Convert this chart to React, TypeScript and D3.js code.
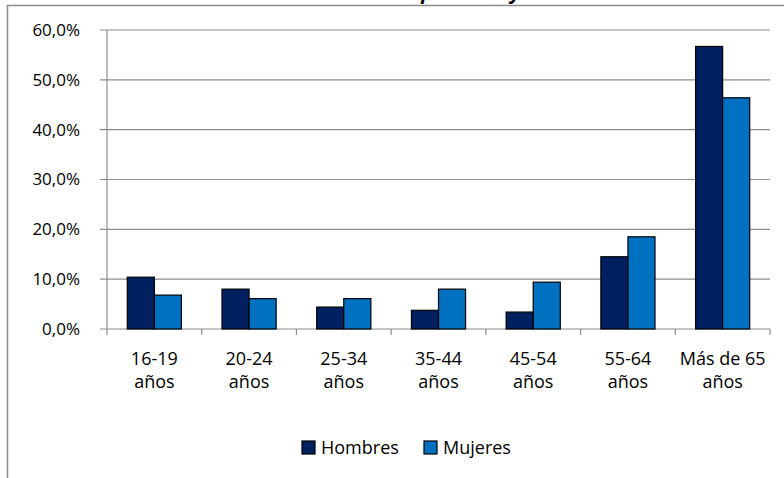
import React from "react";
import * as d3 from "d3";

const categories = ["16-19 años", "20-24 años", "25-34 años", "35-44 años", "45-54 años", "55-64 años", "Más de 65 años"];
const categoryLines = [["16-19", "años"], ["20-24", "años"], ["25-34", "años"], ["35-44", "años"], ["45-54", "años"], ["55-64", "años"], ["Más de 65", "años"]];
const seriesNames = ["Hombres", "Mujeres"];
const hombres = [10.4, 8.0, 4.4, 3.75, 3.4, 14.5, 56.7];
const mujeres = [6.8, 6.1, 6.1, 8.0, 9.4, 18.5, 46.4];
const yTicks = [0, 10, 20, 30, 40, 50, 60];
const colors = ["#002060", "#0070C0"];
const title = "Distribución por edad y sexo";

const W = 784;
const H = 478;
const font = "'Open Sans', 'Noto Sans', sans-serif";

export default function App() {
  const left = 107, right = 770, top = 30, bottom = 329;
  const x = d3.scaleBand<string>().domain(categories).range([left, right]).paddingInner(0).paddingOuter(0);
  const y = d3.scaleLinear().domain([0, 60]).range([bottom, top]);
  const bw = x.bandwidth();
  const barW = bw / 3.5;
  const series = [hombres, mujeres];
  const fmt = (v: number) => v.toFixed(1).replace(".", ",") + "%";

  return (
    <svg width={W} height={H} style={{ position: "absolute", left: 0, top: 0, display: "block" }} fontFamily={font}>
      <rect x={0} y={0} width={W} height={H} fill="#fff" />
      <text x={435} y={-1.5} textAnchor="middle" fontSize={20} fontWeight="bold" fontStyle="italic" fill="#000">{title}</text>
      {/* frame */}
      <path d={`M7.5,${H + 5} V5.5 H${W + 5}`} fill="none" stroke="#8c8c8c" strokeWidth={1.5} />
      {/* gridlines */}
      {yTicks.map((t) => (
        <g key={t}>
          <line x1={left - 7} x2={right} y1={y(t)} y2={y(t)} stroke="#8c8c8c" strokeWidth={1.2} />
          <text x={80} y={y(t)} dy="0.35em" textAnchor="end" fontSize={17} fill="#000">{fmt(t)}</text>
        </g>
      ))}
      {/* y axis */}
      <line x1={left} x2={left} y1={top} y2={bottom} stroke="#8c8c8c" strokeWidth={1.2} />
      {/* x tick marks */}
      {categories.map((c) => (
        <line key={c} x1={x(c)!} x2={x(c)!} y1={bottom} y2={bottom + 6} stroke="#8c8c8c" strokeWidth={1.2} />
      ))}
      <line x1={right} x2={right} y1={bottom} y2={bottom + 6} stroke="#8c8c8c" strokeWidth={1.2} />
      {/* bars */}
      {series.map((vals, s) =>
        vals.map((v, i) => {
          const cx = x(categories[i])! + bw / 2;
          const bx = cx - barW + s * barW;
          return (
            <rect key={`${s}-${i}`} x={bx} y={y(v)} width={barW} height={y(0) - y(v)} fill={colors[s]} stroke="#000" strokeWidth={1.2} />
          );
        })
      )}
      {/* category labels */}
      {categories.map((c, i) => (
        <text key={c} x={x(c)! + bw / 2} textAnchor="middle" fontSize={18} fill="#000">
          <tspan x={x(c)! + bw / 2} y={364.5}>{categoryLines[i][0]}</tspan>
          <tspan x={x(c)! + bw / 2} y={387.5}>{categoryLines[i][1]}</tspan>
        </text>
      ))}
      {/* legend */}
      {seriesNames.map((n, i) => {
        const lx = i === 0 ? 302 : 424;
        return (
          <g key={n}>
            <rect x={lx} y={441} width={13} height={13} fill={colors[i]} stroke="#000" strokeWidth={1.2} />
            <text x={lx + 19} y={447.5} dy="0.35em" fontSize={18} fill="#000">{n}</text>
          </g>
        );
      })}
    </svg>
  );
}
